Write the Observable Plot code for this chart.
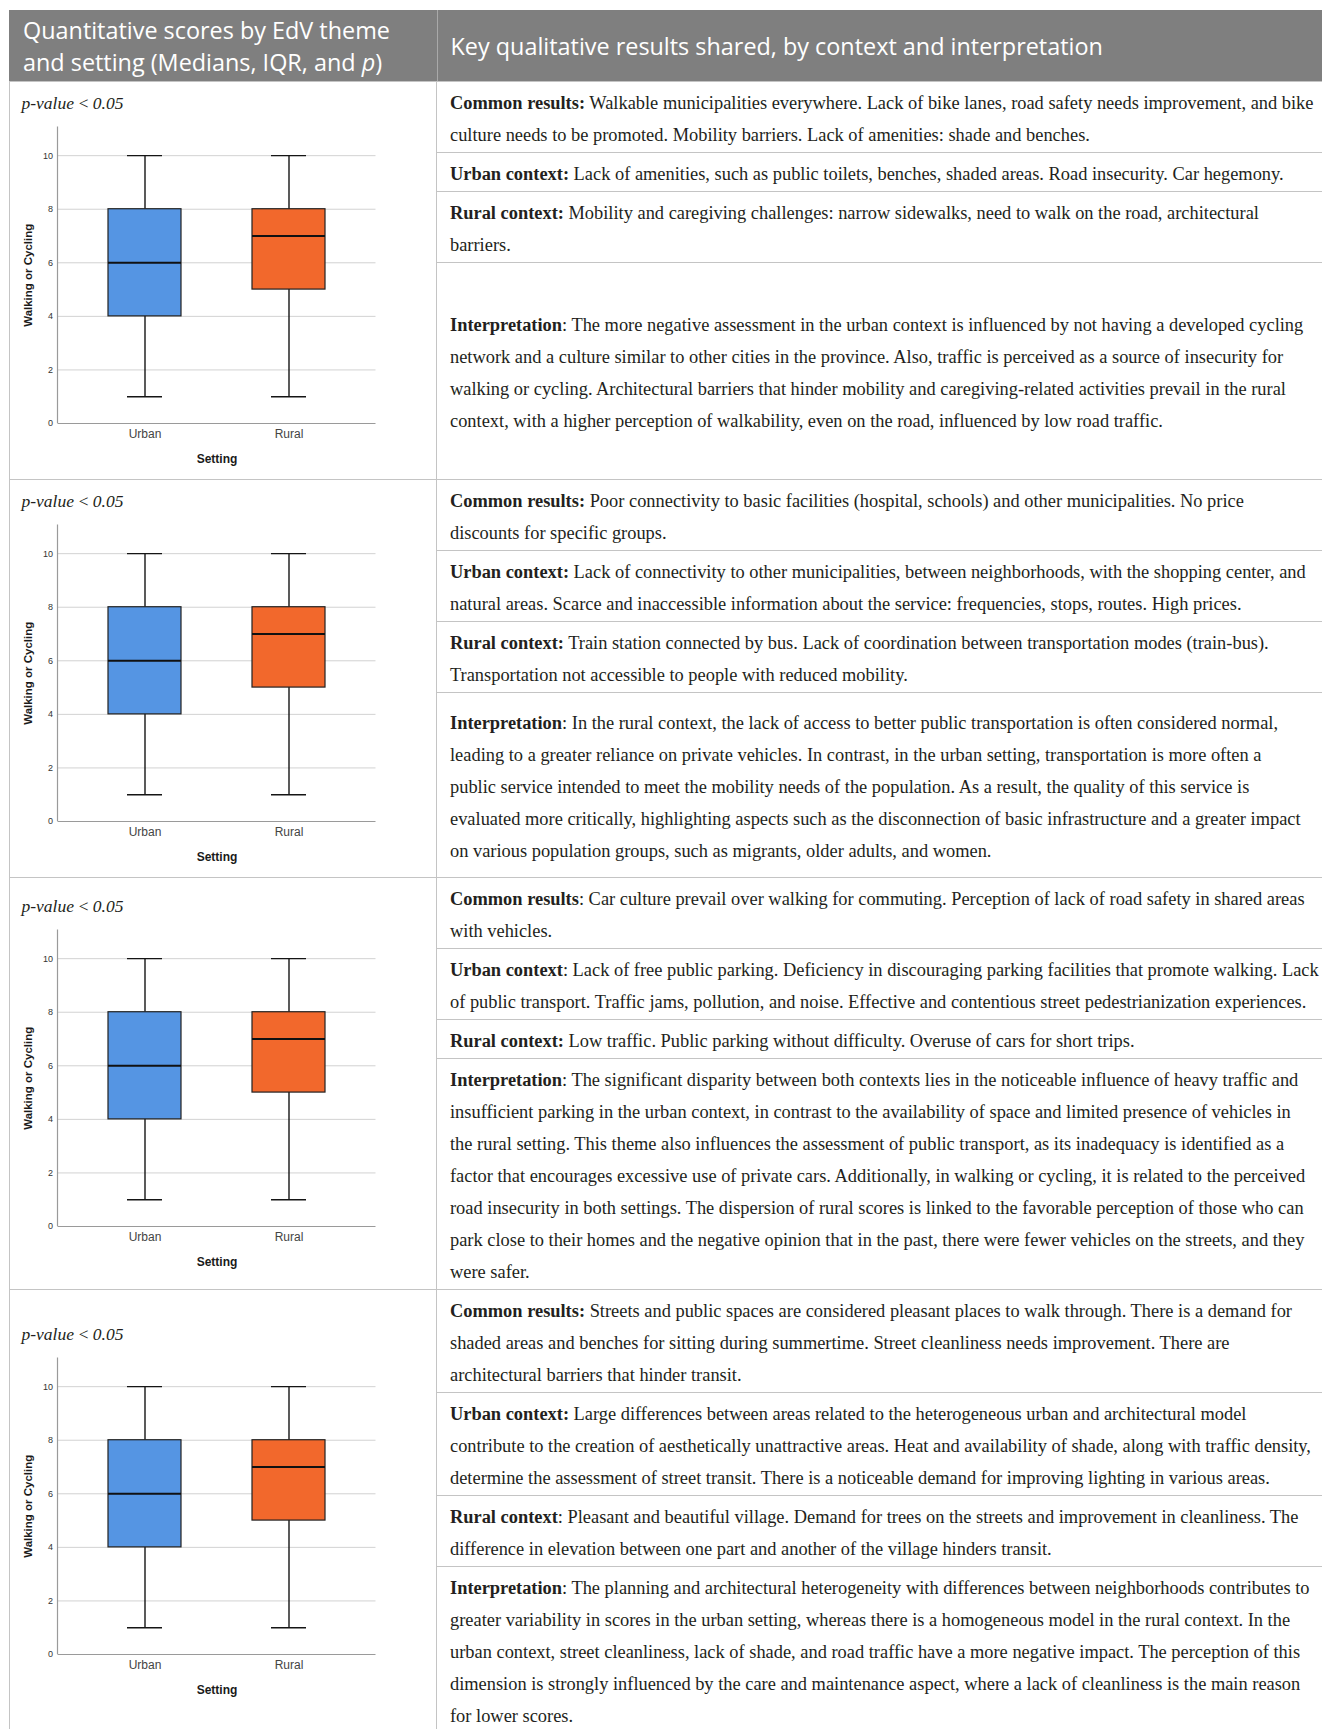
<!DOCTYPE html>
<html>
<head>
<meta charset="utf-8">
<script src="https://cdn.jsdelivr.net/npm/d3@7"></script>
<script src="https://cdn.jsdelivr.net/npm/@observablehq/plot@0.6"></script>
<style>
  html, body { margin: 0; padding: 0; background: #fff; overflow: hidden; }
  #table { position: absolute; left: 9px; top: 10px; width: 1313px; }
  .head { display: flex; height: 71px; background: #7f7f7f; color: #fff;
          font-family: "Open Sans", sans-serif; font-size: 23.4px; line-height: 32px; }
  .head .l { box-sizing: border-box; width: 428.5px; padding: 4px 0 0 14px; border-right: 1.5px solid #a9a9a9; }
  .head .r { flex: 1; display: flex; align-items: center; padding-left: 13px; }
  .row { display: flex; border-top: 1.5px solid #c4c4c4; border-left: 1.5px solid #c4c4c4; }
  .lc { box-sizing: border-box; width: 427px; border-right: 1.5px solid #c4c4c4;
        display: flex; flex-direction: column; justify-content: center; padding: 10px 0 6px 0; }
  .pval { font-family: "Liberation Serif", serif; font-style: italic; font-size: 17.5px; line-height: 22px;
          color: #231f20; margin-left: 11.5px; margin-bottom: 5px; }
  .lc svg { display: block; }
  .rc { flex: 1; display: flex; flex-direction: column; }
  .blk { padding: 4.5px 0 1.5px 13px; font-family: "Liberation Serif", serif; font-size: 18.4px; line-height: 32px;
         color: #231f20; border-bottom: 1.5px solid #c4c4c4; }
  .blk:last-child { border-bottom: none; flex-grow: 1; display: flex; flex-direction: column; justify-content: center; }
  .ln { white-space: nowrap; }
</style>
</head>
<body>
<div id="table"></div>
<script>
// ---- data ----
const settings = ["Urban", "Rural"];
const boxColors = ["#5595e3", "#f2682c"];
const whiskerLow = [1, 1];
const quartile1 = [4, 5];
const medians = [6, 7];
const quartile3 = [8, 8];
const whiskerHigh = [10, 10];
const yTicks = [0, 2, 4, 6, 8, 10];
const yLabel = "Walking or Cycling";
const xLabel = "Setting";
const pValueLabel = "p-value\u2009<\u20090.05";

const headerLeft = ["Quantitative scores by EdV theme", "and setting (Medians, IQR, and <i>p</i>)"];
const headerRight = "Key qualitative results shared, by context and interpretation";

const theme1 = [
  ["**Common results:** Walkable municipalities everywhere. Lack of bike lanes, road safety needs improvement, and bike",
   "culture needs to be promoted. Mobility barriers. Lack of amenities: shade and benches."],
  ["**Urban context:** Lack of amenities, such as public toilets, benches, shaded areas. Road insecurity. Car hegemony."],
  ["**Rural context:** Mobility and caregiving challenges: narrow sidewalks, need to walk on the road, architectural",
   "barriers."],
  ["**Interpretation**: The more negative assessment in the urban context is influenced by not having a developed cycling",
   "network and a culture similar to other cities in the province. Also, traffic is perceived as a source of insecurity for",
   "walking or cycling. Architectural barriers that hinder mobility and caregiving-related activities prevail in the rural",
   "context, with a higher perception of walkability, even on the road, influenced by low road traffic."]
];
const theme2 = [
  ["**Common results:** Poor connectivity to basic facilities (hospital, schools) and other municipalities. No price",
   "discounts for specific groups."],
  ["**Urban context:** Lack of connectivity to other municipalities, between neighborhoods, with the shopping center, and",
   "natural areas. Scarce and inaccessible information about the service: frequencies, stops, routes. High prices."],
  ["**Rural context:** Train station connected by bus. Lack of coordination between transportation modes (train-bus).",
   "Transportation not accessible to people with reduced mobility."],
  ["**Interpretation**: In the rural context, the lack of access to better public transportation is often considered normal,",
   "leading to a greater reliance on private vehicles. In contrast, in the urban setting, transportation is more often a",
   "public service intended to meet the mobility needs of the population. As a result, the quality of this service is",
   "evaluated more critically, highlighting aspects such as the disconnection of basic infrastructure and a greater impact",
   "on various population groups, such as migrants, older adults, and women."]
];
const theme3 = [
  ["**Common results**: Car culture prevail over walking for commuting. Perception of lack of road safety in shared areas",
   "with vehicles."],
  ["**Urban context**: Lack of free public parking. Deficiency in discouraging parking facilities that promote walking. Lack",
   "of public transport. Traffic jams, pollution, and noise. Effective and contentious street pedestrianization experiences."],
  ["**Rural context:** Low traffic. Public parking without difficulty. Overuse of cars for short trips."],
  ["**Interpretation**: The significant disparity between both contexts lies in the noticeable influence of heavy traffic and",
   "insufficient parking in the urban context, in contrast to the availability of space and limited presence of vehicles in",
   "the rural setting. This theme also influences the assessment of public transport, as its inadequacy is identified as a",
   "factor that encourages excessive use of private cars. Additionally, in walking or cycling, it is related to the perceived",
   "road insecurity in both settings. The dispersion of rural scores is linked to the favorable perception of those who can",
   "park close to their homes and the negative opinion that in the past, there were fewer vehicles on the streets, and they",
   "were safer."]
];
const theme4 = [
  ["**Common results:** Streets and public spaces are considered pleasant places to walk through. There is a demand for",
   "shaded areas and benches for sitting during summertime. Street cleanliness needs improvement. There are",
   "architectural barriers that hinder transit."],
  ["**Urban context:** Large differences between areas related to the heterogeneous urban and architectural model",
   "contribute to the creation of aesthetically unattractive areas. Heat and availability of shade, along with traffic density,",
   "determine the assessment of street transit. There is a noticeable demand for improving lighting in various areas."],
  ["**Rural context**: Pleasant and beautiful village. Demand for trees on the streets and improvement in cleanliness. The",
   "difference in elevation between one part and another of the village hinders transit."],
  ["**Interpretation**: The planning and architectural heterogeneity with differences between neighborhoods contributes to",
   "greater variability in scores in the urban setting, whereas there is a homogeneous model in the rural context. In the",
   "urban context, street cleanliness, lack of shade, and road traffic have a more negative impact. The perception of this",
   "dimension is strongly influenced by the care and maintenance aspect, where a lack of cleanliness is the main reason",
   "for lower scores."]
];
const themes = [theme1, theme2, theme3, theme4];

// ---- build ----
const boxes = settings.map((s, i) => ({
  setting: s, color: boxColors[i], lo: whiskerLow[i], q1: quartile1[i],
  med: medians[i], q3: quartile3[i], hi: whiskerHigh[i]
}));

function boxPlot() {
  const plot = Plot.plot({
    width: 410, height: 354,
    marginTop: 7.5, marginBottom: 50, marginLeft: 47.5, marginRight: 44.5,
    style: { fontFamily: "'Liberation Sans', Arial, sans-serif", fontSize: "9px", color: "#333", background: "#fff", overflow: "visible" },
    x: { domain: settings, paddingInner: 0.493, paddingOuter: 0.35, axis: null },
    y: { domain: [0, 11.07], ticks: yTicks, tickSize: 0, tickPadding: 5, label: null },
    marks: [
      Plot.ruleY(yTicks.slice(1), { stroke: "#d2d2d2", strokeWidth: 1 }),
      Plot.ruleY([0], { stroke: "#9a9a9a", strokeWidth: 1.2 }),
      Plot.ruleX(boxes, { x: "setting", y1: "lo", y2: "q1", stroke: "#151515", strokeWidth: 1.4 }),
      Plot.ruleX(boxes, { x: "setting", y1: "q3", y2: "hi", stroke: "#151515", strokeWidth: 1.4 }),
      Plot.tickY(boxes, { x: "setting", y: "lo", insetLeft: 19, insetRight: 19, stroke: "#151515", strokeWidth: 1.4 }),
      Plot.tickY(boxes, { x: "setting", y: "hi", insetLeft: 19, insetRight: 19, stroke: "#151515", strokeWidth: 1.4 }),
      Plot.barY(boxes, { x: "setting", y1: "q1", y2: "q3", fill: "color", stroke: "#222", strokeWidth: 1.2 }),
      Plot.tickY(boxes, { x: "setting", y: "med", stroke: "#111", strokeWidth: 2 }),
      Plot.text(boxes, { x: "setting", text: "setting", frameAnchor: "bottom", dy: 14, fontSize: 12, fill: "#444" }),
      Plot.text([xLabel], { frameAnchor: "bottom", dy: 39, fontSize: 12, fontWeight: "bold", fill: "#1a1a1a" }),
      Plot.text([yLabel], { frameAnchor: "left", textAnchor: "middle", lineAnchor: "middle", rotate: -90, dx: -30,
                            fontSize: 11.5, fontWeight: "bold", fill: "#1a1a1a" })
    ]
  });
  // y-axis domain line drawn from the plot's own scales
  const xs = plot.scale("x"), ys = plot.scale("y");
  d3.select(plot).append("line")
    .attr("x1", xs.range[0]).attr("x2", xs.range[0])
    .attr("y1", ys.range[0]).attr("y2", ys.range[1])
    .attr("stroke", "#9a9a9a").attr("stroke-width", 1.2);
  return plot;
}

const md = s => s.replace(/\*\*(.+?)\*\*/g, "<b>$1</b>");
const table = d3.select("#table");
const head = table.append("div").attr("class", "head");
head.append("div").attr("class", "l").html(headerLeft.join("<br>"));
head.append("div").attr("class", "r").text(headerRight);

themes.forEach(theme => {
  const row = table.append("div").attr("class", "row");
  const lc = row.append("div").attr("class", "lc");
  lc.append("div").attr("class", "pval").text(pValueLabel);
  lc.node().appendChild(boxPlot());
  const rc = row.append("div").attr("class", "rc");
  theme.forEach(block => {
    const b = rc.append("div").attr("class", "blk");
    b.selectAll("div").data(block).join("div").attr("class", "ln").html(md);
  });
});
</script>
</body>
</html>
